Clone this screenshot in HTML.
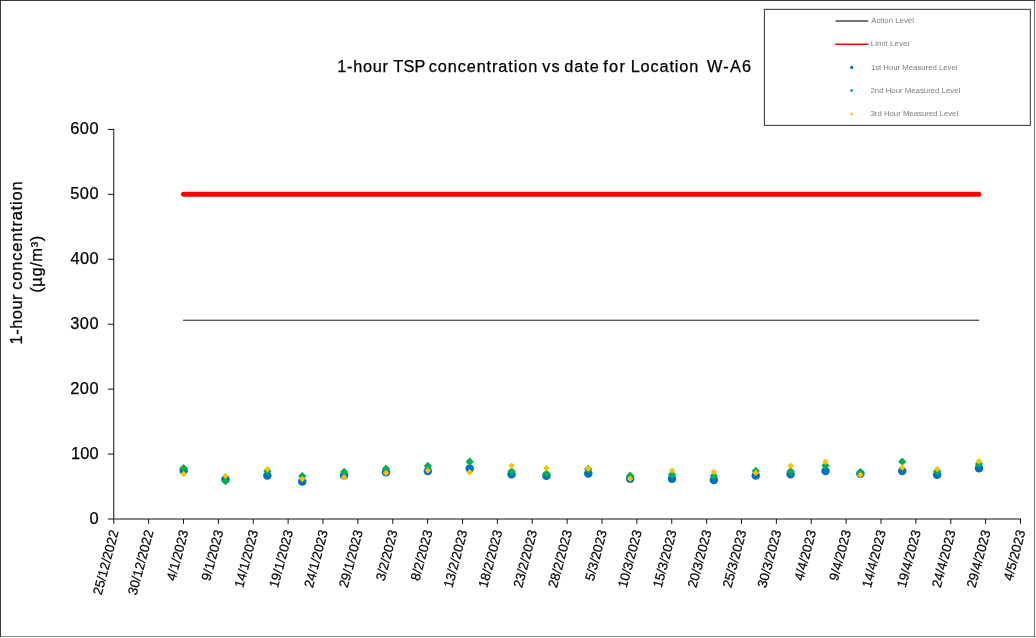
<!DOCTYPE html>
<html lang="en"><head><meta charset="utf-8"><title>1-hour TSP concentration vs date for Location W-A6</title>
<style>
html,body{margin:0;padding:0;background:#fff;}
body{width:1036px;height:638px;overflow:hidden;}
svg{display:block;font-family:"Liberation Sans",Arial,Helvetica,sans-serif;}
text{white-space:pre;}
</style></head><body>
<svg width="1036" height="638" viewBox="0 0 1036 638">
<rect x="0" y="0" width="1036" height="638" fill="#ffffff"/>

<g fill="#000" shape-rendering="crispEdges">
<rect x="0" y="0" width="1035" height="1" fill-opacity="0.77"/>
<rect x="0" y="0" width="1" height="637" fill-opacity="0.77"/>
<rect x="1034" y="0" width="1" height="637" fill-opacity="0.55"/>
<rect x="0" y="636" width="1035" height="1" fill-opacity="0.45"/>
</g>
<text y="71.8" font-size="16.3" fill="#000" stroke="#000" stroke-width="0.25"><tspan x="337.25" letter-spacing="0.740">1-hour</tspan> <tspan x="393.15" letter-spacing="0.300">TSP</tspan> <tspan x="428.75" letter-spacing="0.892">concentration</tspan> <tspan x="542.15" letter-spacing="1.200">vs</tspan> <tspan x="564.15" letter-spacing="1.017">date</tspan> <tspan x="603.35" letter-spacing="1.250">for</tspan> <tspan x="630.65" letter-spacing="0.879">Location</tspan>  <tspan x="706.95" letter-spacing="1.233">W-A6</tspan></text>
<g font-size="16.5" fill="#000" stroke="#000" stroke-width="0.25">
<text transform="translate(21.6,343.2) rotate(-90)" y="0"><tspan x="-1.25" letter-spacing="0.470">1-hour</tspan> <tspan x="53.55" letter-spacing="0.762">concentration</tspan></text>
<text transform="translate(42.0,291.7) rotate(-90)" x="-1.00" y="0" letter-spacing="0.567">(µg/m³)</text>
</g>
<g stroke="#000" stroke-width="0.93" fill="none">
<line x1="113.75" y1="128.75" x2="113.75" y2="523.8"/>
<line x1="107.8" y1="519.0" x2="1021.1" y2="519.0"/>
<line x1="107.8" y1="129.42" x2="113.75" y2="129.42"/>
<line x1="107.8" y1="194.35" x2="113.75" y2="194.35"/>
<line x1="107.8" y1="259.28" x2="113.75" y2="259.28"/>
<line x1="107.8" y1="324.21" x2="113.75" y2="324.21"/>
<line x1="107.8" y1="389.14" x2="113.75" y2="389.14"/>
<line x1="107.8" y1="454.07" x2="113.75" y2="454.07"/>
<line x1="148.62" y1="519.0" x2="148.62" y2="523.8"/>
<line x1="183.50" y1="519.0" x2="183.50" y2="523.8"/>
<line x1="218.38" y1="519.0" x2="218.38" y2="523.8"/>
<line x1="253.25" y1="519.0" x2="253.25" y2="523.8"/>
<line x1="288.12" y1="519.0" x2="288.12" y2="523.8"/>
<line x1="323.00" y1="519.0" x2="323.00" y2="523.8"/>
<line x1="357.88" y1="519.0" x2="357.88" y2="523.8"/>
<line x1="392.75" y1="519.0" x2="392.75" y2="523.8"/>
<line x1="427.62" y1="519.0" x2="427.62" y2="523.8"/>
<line x1="462.50" y1="519.0" x2="462.50" y2="523.8"/>
<line x1="497.38" y1="519.0" x2="497.38" y2="523.8"/>
<line x1="532.25" y1="519.0" x2="532.25" y2="523.8"/>
<line x1="567.12" y1="519.0" x2="567.12" y2="523.8"/>
<line x1="602.00" y1="519.0" x2="602.00" y2="523.8"/>
<line x1="636.88" y1="519.0" x2="636.88" y2="523.8"/>
<line x1="671.75" y1="519.0" x2="671.75" y2="523.8"/>
<line x1="706.62" y1="519.0" x2="706.62" y2="523.8"/>
<line x1="741.50" y1="519.0" x2="741.50" y2="523.8"/>
<line x1="776.38" y1="519.0" x2="776.38" y2="523.8"/>
<line x1="811.25" y1="519.0" x2="811.25" y2="523.8"/>
<line x1="846.12" y1="519.0" x2="846.12" y2="523.8"/>
<line x1="881.00" y1="519.0" x2="881.00" y2="523.8"/>
<line x1="915.88" y1="519.0" x2="915.88" y2="523.8"/>
<line x1="950.75" y1="519.0" x2="950.75" y2="523.8"/>
<line x1="985.62" y1="519.0" x2="985.62" y2="523.8"/>
<line x1="1020.50" y1="519.0" x2="1020.50" y2="523.8"/>
</g>
<g font-size="16.4" fill="#000" stroke="#000" stroke-width="0.25">
<text x="70.35" y="133.80" letter-spacing="0.400">600</text>
<text x="70.35" y="198.80" letter-spacing="0.400">500</text>
<text x="70.60" y="263.80" letter-spacing="0.275">400</text>
<text x="70.35" y="328.80" letter-spacing="0.400">300</text>
<text x="70.35" y="393.80" letter-spacing="0.400">200</text>
<text x="71.05" y="458.80" letter-spacing="0.050">100</text>
<text x="89.40" y="523.80" letter-spacing="0.000">0</text>
</g>
<g font-size="13.3" fill="#000" text-anchor="end" stroke="#000" stroke-width="0.2">
<text transform="translate(114.15,530.2) rotate(-75)" dy="0.36em">25/12/2022</text>
<text transform="translate(149.03,530.2) rotate(-75)" dy="0.36em">30/12/2022</text>
<text transform="translate(183.90,530.2) rotate(-75)" dy="0.36em">4/1/2023</text>
<text transform="translate(218.78,530.2) rotate(-75)" dy="0.36em">9/1/2023</text>
<text transform="translate(253.65,530.2) rotate(-75)" dy="0.36em">14/1/2023</text>
<text transform="translate(288.52,530.2) rotate(-75)" dy="0.36em">19/1/2023</text>
<text transform="translate(323.40,530.2) rotate(-75)" dy="0.36em">24/1/2023</text>
<text transform="translate(358.27,530.2) rotate(-75)" dy="0.36em">29/1/2023</text>
<text transform="translate(393.15,530.2) rotate(-75)" dy="0.36em">3/2/2023</text>
<text transform="translate(428.02,530.2) rotate(-75)" dy="0.36em">8/2/2023</text>
<text transform="translate(462.90,530.2) rotate(-75)" dy="0.36em">13/2/2023</text>
<text transform="translate(497.77,530.2) rotate(-75)" dy="0.36em">18/2/2023</text>
<text transform="translate(532.65,530.2) rotate(-75)" dy="0.36em">23/2/2023</text>
<text transform="translate(567.52,530.2) rotate(-75)" dy="0.36em">28/2/2023</text>
<text transform="translate(602.40,530.2) rotate(-75)" dy="0.36em">5/3/2023</text>
<text transform="translate(637.27,530.2) rotate(-75)" dy="0.36em">10/3/2023</text>
<text transform="translate(672.15,530.2) rotate(-75)" dy="0.36em">15/3/2023</text>
<text transform="translate(707.02,530.2) rotate(-75)" dy="0.36em">20/3/2023</text>
<text transform="translate(741.90,530.2) rotate(-75)" dy="0.36em">25/3/2023</text>
<text transform="translate(776.77,530.2) rotate(-75)" dy="0.36em">30/3/2023</text>
<text transform="translate(811.65,530.2) rotate(-75)" dy="0.36em">4/4/2023</text>
<text transform="translate(846.52,530.2) rotate(-75)" dy="0.36em">9/4/2023</text>
<text transform="translate(881.40,530.2) rotate(-75)" dy="0.36em">14/4/2023</text>
<text transform="translate(916.27,530.2) rotate(-75)" dy="0.36em">19/4/2023</text>
<text transform="translate(951.15,530.2) rotate(-75)" dy="0.36em">24/4/2023</text>
<text transform="translate(986.02,530.2) rotate(-75)" dy="0.36em">29/4/2023</text>
<text transform="translate(1020.90,530.2) rotate(-75)" dy="0.36em">4/5/2023</text>
</g>
<line x1="183.05" y1="320.22" x2="979.20" y2="320.22" stroke="#000" stroke-width="0.9"/>
<line x1="183.50" y1="194.25" x2="978.75" y2="194.25" stroke="#ff0000" stroke-width="5.0" stroke-linecap="round"/>
<circle cx="183.65" cy="470.4" r="4.25" fill="#0070c0"/>
<circle cx="225.51" cy="479.2" r="4.25" fill="#0070c0"/>
<circle cx="267.37" cy="475.5" r="4.25" fill="#0070c0"/>
<circle cx="302.25" cy="481.4" r="4.25" fill="#0070c0"/>
<circle cx="344.11" cy="475.6" r="4.25" fill="#0070c0"/>
<circle cx="385.98" cy="472.2" r="4.25" fill="#0070c0"/>
<circle cx="427.84" cy="471.0" r="4.25" fill="#0070c0"/>
<circle cx="469.70" cy="468.5" r="4.25" fill="#0070c0"/>
<circle cx="511.56" cy="474.2" r="4.25" fill="#0070c0"/>
<circle cx="546.44" cy="475.8" r="4.25" fill="#0070c0"/>
<circle cx="588.30" cy="473.6" r="4.25" fill="#0070c0"/>
<circle cx="630.16" cy="478.8" r="4.25" fill="#0070c0"/>
<circle cx="672.02" cy="478.8" r="4.25" fill="#0070c0"/>
<circle cx="713.88" cy="479.9" r="4.25" fill="#0070c0"/>
<circle cx="755.75" cy="475.5" r="4.25" fill="#0070c0"/>
<circle cx="790.63" cy="474.2" r="4.25" fill="#0070c0"/>
<circle cx="825.51" cy="471.0" r="4.25" fill="#0070c0"/>
<circle cx="860.40" cy="473.8" r="4.25" fill="#0070c0"/>
<circle cx="902.26" cy="471.0" r="4.25" fill="#0070c0"/>
<circle cx="937.14" cy="474.8" r="4.25" fill="#0070c0"/>
<circle cx="979.00" cy="468.3" r="4.25" fill="#0070c0"/>
<path d="M183.65 464.05 L187.80 468.20 L183.65 472.35 L179.50 468.20 Z" fill="#00b050"/>
<path d="M225.51 477.05 L229.66 481.20 L225.51 485.35 L221.36 481.20 Z" fill="#00b050"/>
<path d="M267.37 466.75 L271.52 470.90 L267.37 475.05 L263.22 470.90 Z" fill="#00b050"/>
<path d="M302.25 471.95 L306.40 476.10 L302.25 480.25 L298.10 476.10 Z" fill="#00b050"/>
<path d="M344.11 467.75 L348.26 471.90 L344.11 476.05 L339.96 471.90 Z" fill="#00b050"/>
<path d="M385.98 464.55 L390.13 468.70 L385.98 472.85 L381.83 468.70 Z" fill="#00b050"/>
<path d="M427.84 461.75 L431.99 465.90 L427.84 470.05 L423.69 465.90 Z" fill="#00b050"/>
<path d="M469.70 457.55 L473.85 461.70 L469.70 465.85 L465.55 461.70 Z" fill="#00b050"/>
<path d="M511.56 467.15 L515.71 471.30 L511.56 475.45 L507.41 471.30 Z" fill="#00b050"/>
<path d="M546.44 469.45 L550.59 473.60 L546.44 477.75 L542.29 473.60 Z" fill="#00b050"/>
<path d="M588.30 464.85 L592.45 469.00 L588.30 473.15 L584.15 469.00 Z" fill="#00b050"/>
<path d="M630.16 471.55 L634.31 475.70 L630.16 479.85 L626.01 475.70 Z" fill="#00b050"/>
<path d="M672.02 470.35 L676.17 474.50 L672.02 478.65 L667.87 474.50 Z" fill="#00b050"/>
<path d="M713.88 471.65 L718.03 475.80 L713.88 479.95 L709.73 475.80 Z" fill="#00b050"/>
<path d="M755.75 466.75 L759.90 470.90 L755.75 475.05 L751.60 470.90 Z" fill="#00b050"/>
<path d="M790.63 467.05 L794.78 471.20 L790.63 475.35 L786.48 471.20 Z" fill="#00b050"/>
<path d="M825.51 461.45 L829.66 465.60 L825.51 469.75 L821.36 465.60 Z" fill="#00b050"/>
<path d="M860.40 468.05 L864.55 472.20 L860.40 476.35 L856.25 472.20 Z" fill="#00b050"/>
<path d="M902.26 457.55 L906.41 461.70 L902.26 465.85 L898.11 461.70 Z" fill="#00b050"/>
<path d="M937.14 467.05 L941.29 471.20 L937.14 475.35 L932.99 471.20 Z" fill="#00b050"/>
<path d="M979.00 459.95 L983.15 464.10 L979.00 468.25 L974.85 464.10 Z" fill="#00b050"/>
<path d="M183.65 470.80 L186.85 474.00 L183.65 477.20 L180.45 474.00 Z" fill="#ffc000"/>
<path d="M225.51 472.70 L228.71 475.90 L225.51 479.10 L222.31 475.90 Z" fill="#ffc000"/>
<path d="M267.37 465.80 L270.57 469.00 L267.37 472.20 L264.17 469.00 Z" fill="#ffc000"/>
<path d="M302.25 475.90 L305.45 479.10 L302.25 482.30 L299.05 479.10 Z" fill="#ffc000"/>
<path d="M344.11 474.00 L347.31 477.20 L344.11 480.40 L340.91 477.20 Z" fill="#ffc000"/>
<path d="M385.98 469.70 L389.18 472.90 L385.98 476.10 L382.78 472.90 Z" fill="#ffc000"/>
<path d="M427.84 467.40 L431.04 470.60 L427.84 473.80 L424.64 470.60 Z" fill="#ffc000"/>
<path d="M469.70 469.00 L472.90 472.20 L469.70 475.40 L466.50 472.20 Z" fill="#ffc000"/>
<path d="M511.56 462.60 L514.76 465.80 L511.56 469.00 L508.36 465.80 Z" fill="#ffc000"/>
<path d="M546.44 465.10 L549.64 468.30 L546.44 471.50 L543.24 468.30 Z" fill="#ffc000"/>
<path d="M588.30 465.30 L591.50 468.50 L588.30 471.70 L585.10 468.50 Z" fill="#ffc000"/>
<path d="M630.16 475.50 L633.36 478.70 L630.16 481.90 L626.96 478.70 Z" fill="#ffc000"/>
<path d="M672.02 467.20 L675.22 470.40 L672.02 473.60 L668.82 470.40 Z" fill="#ffc000"/>
<path d="M713.88 468.70 L717.08 471.90 L713.88 475.10 L710.68 471.90 Z" fill="#ffc000"/>
<path d="M755.75 469.70 L758.95 472.90 L755.75 476.10 L752.55 472.90 Z" fill="#ffc000"/>
<path d="M790.63 462.60 L793.83 465.80 L790.63 469.00 L787.43 465.80 Z" fill="#ffc000"/>
<path d="M825.51 458.50 L828.71 461.70 L825.51 464.90 L822.31 461.70 Z" fill="#ffc000"/>
<path d="M860.40 471.70 L863.60 474.90 L860.40 478.10 L857.20 474.90 Z" fill="#ffc000"/>
<path d="M902.26 464.30 L905.46 467.50 L902.26 470.70 L899.06 467.50 Z" fill="#ffc000"/>
<path d="M937.14 465.80 L940.34 469.00 L937.14 472.20 L933.94 469.00 Z" fill="#ffc000"/>
<path d="M979.00 458.10 L982.20 461.30 L979.00 464.50 L975.80 461.30 Z" fill="#ffc000"/>
<rect x="764.4" y="9.32" width="265.92" height="116.06" fill="#fff" stroke="#2b2b2b" stroke-width="0.98"/>
<line x1="835.6" y1="21" x2="868.2" y2="21" stroke="#757575" stroke-width="2"/>
<line x1="835.7" y1="44.2" x2="867.8" y2="44.2" stroke="#ff0000" stroke-width="1.5" stroke-linecap="round"/>
<circle cx="851.7" cy="67.4" r="1.6" fill="#0070c0"/>
<path d="M851.65 88.85 L853.40 90.60 L851.65 92.35 L849.90 90.60 Z" fill="#00b050"/>
<path d="M851.65 112.30 L853.35 114.00 L851.65 115.70 L849.95 114.00 Z" fill="#ffc000"/>
<g font-size="7.8" fill="#7d7d7d">
<text x="871.20" y="23.1" letter-spacing="0.027">Action Level</text>
<text x="870.75" y="46.0" letter-spacing="0.110">Limit Level</text>
<text x="870.90" y="69.8" letter-spacing="-0.023">1st Hour Measured Level</text>
<text x="870.50" y="93.0" letter-spacing="0.002">2nd Hour Measured Level</text>
<text x="870.50" y="116.1" letter-spacing="-0.014">3rd Hour Measured Level</text>
</g>
</svg>
</body></html>
